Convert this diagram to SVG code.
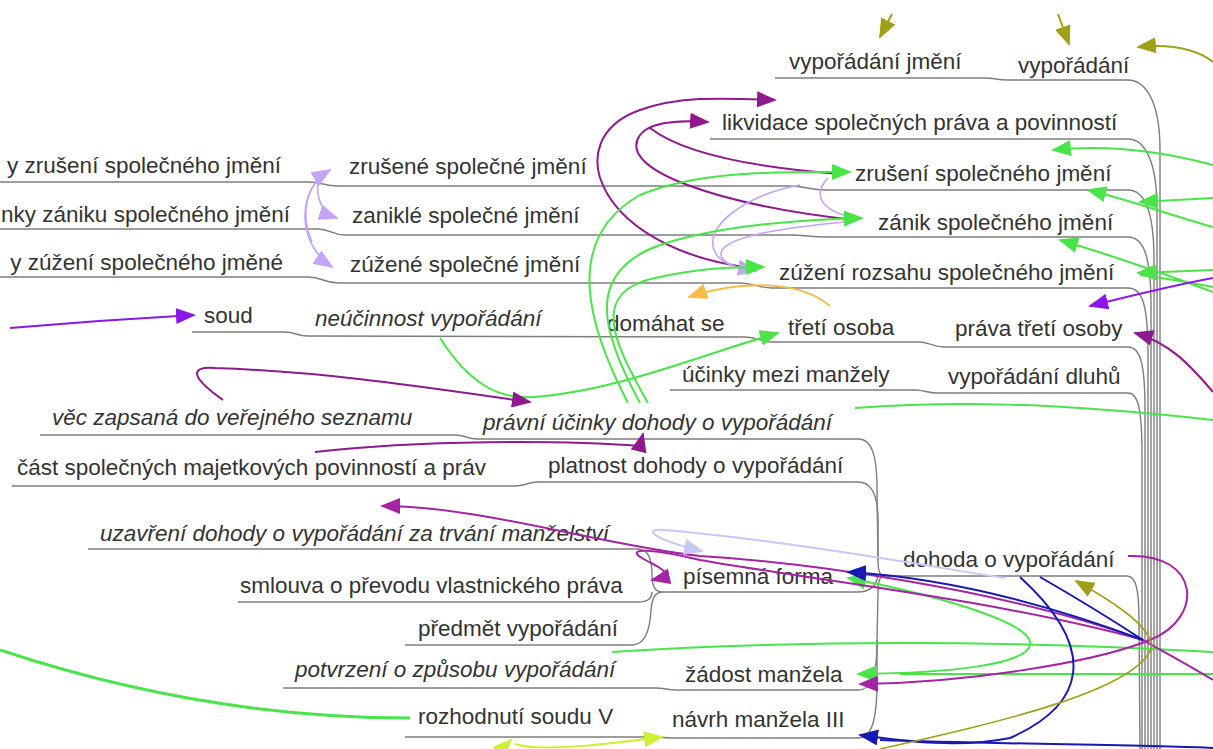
<svg xmlns="http://www.w3.org/2000/svg" width="1213" height="749" viewBox="0 0 1213 749">
<style>
text{font-family:"Liberation Sans",Arial,sans-serif;font-size:22.5px;fill:#333}
.it{font-style:italic}
.tr{fill:none;stroke:#7e7e7e;stroke-width:1.4}
.c{fill:none;stroke-width:2}
.ol{stroke:#a0a018}.dm{stroke:#8e1a8e}.vi{stroke:#8a18e8}.lp{stroke:#c4a4f4;stroke-width:1.6}
.gr{stroke:#48e448}.or{stroke:#f6bc48}.bl{stroke:#1818b4}.mg{stroke:#a424a4}.lv{stroke:#c8c8f6}.yg{stroke:#cdf032}
</style>
<defs>
<marker id="aol" viewBox="0 0 20 16" refX="18" refY="8" markerWidth="20" markerHeight="16" markerUnits="userSpaceOnUse" orient="auto"><path d="M0,0L20,8L0,16z" fill="#a0a018"/></marker>
<marker id="adm" viewBox="0 0 20 16" refX="18" refY="8" markerWidth="20" markerHeight="16" markerUnits="userSpaceOnUse" orient="auto"><path d="M0,0L20,8L0,16z" fill="#8e1a8e"/></marker>
<marker id="avi" viewBox="0 0 20 16" refX="18" refY="8" markerWidth="20" markerHeight="16" markerUnits="userSpaceOnUse" orient="auto"><path d="M0,0L20,8L0,16z" fill="#8a18e8"/></marker>
<marker id="alp" viewBox="0 0 20 16" refX="18" refY="8" markerWidth="20" markerHeight="16" markerUnits="userSpaceOnUse" orient="auto"><path d="M0,0L20,8L0,16z" fill="#c4a4f4"/></marker>
<marker id="agr" viewBox="0 0 20 16" refX="18" refY="8" markerWidth="20" markerHeight="16" markerUnits="userSpaceOnUse" orient="auto"><path d="M0,0L20,8L0,16z" fill="#48e448"/></marker>
<marker id="aor" viewBox="0 0 20 16" refX="18" refY="8" markerWidth="20" markerHeight="16" markerUnits="userSpaceOnUse" orient="auto"><path d="M0,0L20,8L0,16z" fill="#f6bc48"/></marker>
<marker id="abl" viewBox="0 0 20 16" refX="18" refY="8" markerWidth="20" markerHeight="16" markerUnits="userSpaceOnUse" orient="auto"><path d="M0,0L20,8L0,16z" fill="#1818b4"/></marker>
<marker id="amg" viewBox="0 0 20 16" refX="18" refY="8" markerWidth="20" markerHeight="16" markerUnits="userSpaceOnUse" orient="auto"><path d="M0,0L20,8L0,16z" fill="#a424a4"/></marker>
<marker id="alv" viewBox="0 0 20 16" refX="18" refY="8" markerWidth="20" markerHeight="16" markerUnits="userSpaceOnUse" orient="auto"><path d="M0,0L20,8L0,16z" fill="#c8c8f6"/></marker>
<marker id="ayg" viewBox="0 0 20 16" refX="18" refY="8" markerWidth="20" markerHeight="16" markerUnits="userSpaceOnUse" orient="auto"><path d="M0,0L20,8L0,16z" fill="#cdf032"/></marker>
</defs>
<rect width="1213" height="749" fill="#fff"/>

<g id="tree">
<path class="tr" d="M775,78 L985,78 C995,78 997,80 1007,80 L1128,80 C1142,80 1160,95 1160,150 L1160,749"/>
<path class="tr" d="M710,139 L1128,139 C1142,139 1157,155 1157,210 L1157,749"/>
<path class="tr" d="M0,182 L308,182 C322,182 324,186 338,186 L790,186 C805,186 810,190 825,190 L1128,190 C1142,190 1154,205 1154,260 L1154,749"/>
<path class="tr" d="M0,229 L318,229 C330,229 332,235 345,235 L790,235 C805,235 810,237 825,237 L1128,237 C1142,237 1151,252 1151,305 L1151,749"/>
<path class="tr" d="M0,277 L308,277 C322,277 324,283 338,283 L740,283 C755,283 758,288 772,288 L1128,288 C1142,288 1148,303 1148,355 L1148,749"/>
<path class="tr" d="M192,332 L285,332 C295,332 297,336 307,336 L745,337 C758,337 760,342 772,342 L918,342 C930,342 932,347 945,347 L1128,347 C1140,347 1145,362 1145,410 L1145,749"/>
<path class="tr" d="M670,390 L915,390 C925,390 927,393 937,393 L1128,393 C1138,393 1142,408 1142,455 L1142,749"/>
<path class="tr" d="M880,576 L1127,576 C1136,576 1139,590 1139,620 L1140,749"/>
<path class="tr" d="M40,435 L455,435 C465,435 467,439 477,439 L858,439 C872,439 877,455 877,490 L878,560 C878,570 880,576 884,576"/>
<path class="tr" d="M12,486 L515,486 C525,486 528,482 538,482 L858,482 C872,482 878,497 878,520 L878,560"/>
<path class="tr" d="M88,549 L638,549 C648,549 652,560 652,575 C652,585 655,592 662,592"/>
<path class="tr" d="M238,602 L638,602 C648,602 652,598 652,592"/>
<path class="tr" d="M405,645 L632,645 C645,645 650,630 651,610 C652,598 655,592 662,592"/>
<path class="tr" d="M662,592 L858,592 C870,592 876,586 878,576"/>
<path class="tr" d="M283,688 L655,688 C665,688 667,690 677,690 L858,690 C872,690 877,675 877,640 L878,592 C878,582 880,576 884,576"/>
<path class="tr" d="M405,737 L655,737 C662,737 665,738 672,738 L858,738 C872,738 877,720 877,680 L877,640"/>
</g>

<g id="nodes">
<g id="n1"><text x="789" y="69">vypořádání jmění</text></g>
<g id="n2"><text x="1018" y="73">vypořádání</text></g>
<g id="n3"><text x="722" y="130">likvidace společných práva a povinností</text></g>
<g id="n4"><text x="855" y="181">zrušení společného jmění</text></g>
<g id="n5"><text x="878" y="230">zánik společného jmění</text></g>
<g id="n6"><text x="779" y="280">zúžení rozsahu společného jmění</text></g>
<g id="n7"><text x="281" y="173" text-anchor="end">y zrušení společného jmění</text></g>
<g id="n8"><text x="290" y="222" text-anchor="end">nky zániku společného jmění</text></g>
<g id="n9"><text x="283" y="270" text-anchor="end">y zúžení společného jměné</text></g>
<g id="n10"><text x="349" y="174">zrušené společné jmění</text></g>
<g id="n11"><text x="352" y="223">zaniklé společné jmění</text></g>
<g id="n12"><text x="350" y="272">zúžené společné jmění</text></g>
<g id="n13"><text x="204" y="323">soud</text></g>
<g id="n14"><text class="it" x="315" y="326">neúčinnost vypořádání</text></g>
<g id="n15"><text x="607" y="331">domáhat se</text></g>
<g id="n16"><text x="788" y="335">třetí osoba</text></g>
<g id="n17"><text x="955" y="336">práva třetí osoby</text></g>
<g id="n18"><text x="682" y="382">účinky mezi manžely</text></g>
<g id="n19"><text x="948" y="384">vypořádání dluhů</text></g>
<g id="n20"><text class="it" x="52" y="425">věc zapsaná do veřejného seznamu</text></g>
<g id="n21"><text class="it" x="483" y="430">právní účinky dohody o vypořádání</text></g>
<g id="n22"><text x="17" y="475">část společných majetkových povinností a práv</text></g>
<g id="n23"><text x="548" y="473">platnost dohody o vypořádání</text></g>
<g id="n24"><text class="it" x="100" y="541">uzavření dohody o vypořádání za trvání manželství</text></g>
<g id="n25"><text x="240" y="593">smlouva o převodu vlastnického práva</text></g>
<g id="n26"><text x="418" y="636">předmět vypořádání</text></g>
<g id="n27"><text x="683" y="584">písemná forma</text></g>
<g id="n28"><text class="it" x="295" y="677">potvrzení o způsobu vypořádání</text></g>
<g id="n29"><text x="685" y="682">žádost manžela</text></g>
<g id="n30"><text x="418" y="724">rozhodnutí soudu V</text></g>
<g id="n31"><text x="672" y="727">návrh manžela III</text></g>
<g id="n32"><text x="903" y="567">dohoda o vypořádání</text></g>
</g>

<g id="connectors">
<path class="c ol" d="M892,14 L880,37" marker-end="url(#aol)"/>
<path class="c ol" d="M1058,14 L1069,44" marker-end="url(#aol)"/>
<path class="c ol" d="M1213,62 C1195,48 1170,44 1138,47" marker-end="url(#aol)"/>

<path class="c dm" d="M752,268 C600,250 555,140 640,110 C680,96 720,98 775,100" marker-end="url(#adm)"/>
<path class="c dm" d="M855,220 C720,205 615,170 640,135 C650,122 680,120 708,122" marker-end="url(#adm)"/>
<path class="c dm" d="M650,128 C685,155 760,168 840,174"/>

<path class="c lp" d="M312,242 C300,215 305,185 330,170" marker-end="url(#alp)"/>
<path class="c lp" d="M318,180 C316,200 322,213 337,218" marker-end="url(#alp)"/>
<path class="c lp" d="M322,176 C296,198 300,246 332,267" marker-end="url(#alp)"/>
<path class="c lp" d="M828,178 C812,195 822,210 848,216"/>
<path class="c lp" d="M845,222 C780,228 712,238 722,258 C728,266 740,268 756,271" marker-end="url(#alp)"/>
<path class="c lp" d="M800,185 C745,195 700,228 716,254 C724,265 738,268 752,270"/>

<path class="c gr" d="M628,403 C590,330 560,240 640,195 C700,170 780,172 850,172" marker-end="url(#agr)"/>
<path class="c gr" d="M640,403 C600,330 585,272 660,245 C720,225 800,220 862,218" marker-end="url(#agr)"/>
<path class="c gr" d="M648,403 C612,340 590,292 655,278 C700,268 730,267 764,267" marker-end="url(#agr)"/>
<path class="c gr" d="M440,338 C470,385 500,400 535,397 C620,390 700,355 778,333" marker-end="url(#agr)"/>
<path class="c gr" d="M1213,165 C1150,148 1100,145 1053,150" marker-end="url(#agr)"/>
<path class="c gr" d="M1213,227 C1170,215 1130,200 1088,190" marker-end="url(#agr)"/>
<path class="c gr" d="M1213,198 L1140,202" marker-end="url(#agr)"/>
<path class="c gr" d="M1213,292 C1160,272 1110,255 1060,240" marker-end="url(#agr)"/>
<path class="c gr" d="M1213,270 L1138,273" marker-end="url(#agr)"/>
<path class="c gr" d="M1213,287 C1180,281 1160,277 1140,275"/>
<path class="c gr" d="M855,408 C950,401 1050,402 1213,420"/>
<path class="c gr" d="M612,652 C800,640 1000,640 1213,652"/>
<path class="c gr" d="M1030,645 C1035,625 950,598 848,578" marker-end="url(#agr)"/>
<path class="c gr" d="M1030,645 C1025,665 950,673 858,674" marker-end="url(#agr)"/>
<path class="c gr" d="M1213,674 L900,674"/>
<path class="c gr" style="stroke-width:3" d="M0,650 C120,690 260,718 410,718"/>

<path class="c vi" d="M10,328 C80,322 140,318 194,315" marker-end="url(#avi)"/>
<path class="c vi" d="M1213,278 C1170,286 1130,296 1090,306" marker-end="url(#avi)"/>
<path class="c dm" d="M1213,392 C1190,365 1170,343 1135,333" marker-end="url(#adm)"/>

<path class="c dm" d="M223,400 C192,378 188,366 215,368 C330,372 430,388 530,402" marker-end="url(#adm)"/>
<path class="c dm" d="M315,452 C420,440 560,440 640,446 L643,434" marker-end="url(#adm)"/>

<path class="c or" d="M830,306 C800,280 740,280 689,297" marker-end="url(#aor)"/>

<path class="c mg" d="M1213,680 C1180,660 1160,650 1143,640 C1000,588 800,562 700,556 C600,545 480,506 382,506" marker-end="url(#amg)"/>
<path class="c mg" d="M1143,640 C1000,600 780,575 700,560 C650,548 625,548 642,558 C655,566 680,574 652,580" marker-end="url(#amg)"/>
<path class="c mg" d="M1128,556 C1200,553 1205,618 1150,640 C1090,664 960,683 860,684" marker-end="url(#amg)"/>

<path class="c lv" d="M1005,578 C950,570 800,542 665,530 C640,528 655,540 702,551" marker-end="url(#alv)"/>

<path class="c bl" d="M1143,640 C1050,605 950,578 848,572" marker-end="url(#abl)"/>
<path class="c bl" d="M1040,577 C1080,600 1120,625 1143,640"/>
<path class="c bl" d="M1020,577 C1100,650 1085,705 1010,738 C960,748 910,742 860,735" marker-end="url(#abl)"/>
<path class="c bl" d="M1213,748 C1150,745 1000,744 880,740"/>

<path class="c ol" style="stroke-width:1.6" d="M880,749 C1000,722 1140,690 1152,646 C1150,625 1110,600 1076,581" marker-end="url(#aol)"/>

<path class="c yg" d="M502,749 L511,740" marker-end="url(#ayg)"/>
<path class="c yg" d="M515,744 C540,752 600,745 662,737" marker-end="url(#ayg)"/>
</g>
</svg>
